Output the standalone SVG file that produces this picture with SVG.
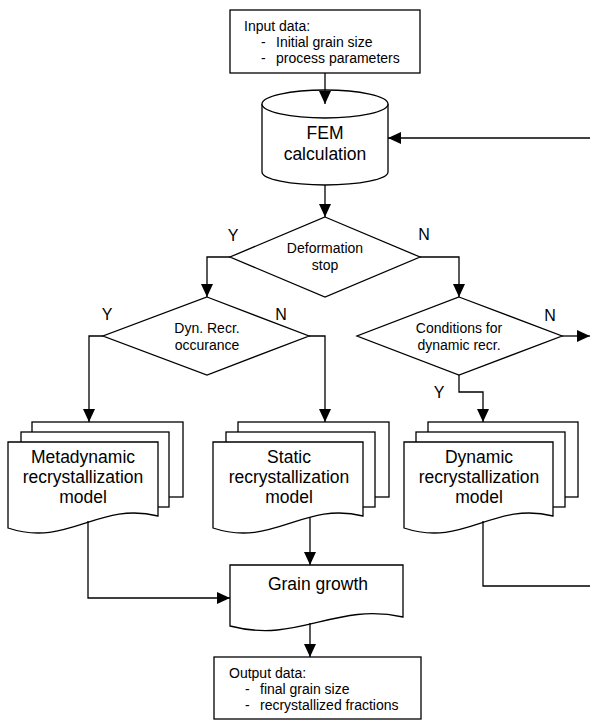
<svg xmlns="http://www.w3.org/2000/svg" width="590" height="722" viewBox="0 0 590 722">
<style>
.s{fill:#fff;stroke:#000;stroke-width:1.3}
.c{fill:none;stroke:#000;stroke-width:1.3}
text{font-family:"Liberation Sans",Arial,sans-serif;fill:#000}
.sm{font-size:14px}
.lg{font-size:17.5px;text-anchor:middle}
.md{font-size:14px;text-anchor:middle}
.yn{font-size:16px;text-anchor:middle}
</style>
<defs>
<marker id="a" markerUnits="userSpaceOnUse" markerWidth="14" markerHeight="12" refX="13" refY="6" orient="auto">
<path d="M0,0 L13,6 L0,12 z" fill="#000"/>
</marker>
</defs>
<rect width="590" height="722" fill="#fff"/>

<g id="input">
<rect class="s" x="230" y="10" width="190" height="63"/>
<text class="sm" x="244" y="31">Input data:</text>
<text class="sm" x="261" y="47">-</text><text class="sm" x="276" y="47">Initial grain size</text>
<text class="sm" x="261" y="63">-</text><text class="sm" x="276" y="63">process parameters</text>
</g>

<g id="fem">
<path class="s" d="M262,104 L262,172 A63,13 0 0 0 388,172 L388,104"/>
<ellipse class="s" cx="325" cy="104" rx="63" ry="14"/>
<text class="lg" x="325" y="139">FEM</text>
<text class="lg" x="325" y="160">calculation</text>
</g>

<g id="deform">
<polygon class="s" points="325,217 420,257 325,297 230,257"/>
<text class="md" x="325" y="253">Deformation</text>
<text class="md" x="325" y="270">stop</text>
</g>

<g id="dynrecr">
<polygon class="s" points="207,297 309,336 207,375 103,336"/>
<text class="md" x="207" y="333">Dyn. Recr.</text>
<text class="md" x="207" y="350">occurance</text>
</g>

<g id="cond">
<polygon class="s" points="459,297 562,336 459,375 357,336"/>
<text class="md" x="459" y="333">Conditions for</text>
<text class="md" x="459" y="350">dynamic recr.</text>
</g>

<g id="meta">
<rect class="s" x="32" y="422" width="151" height="75"/>
<rect class="s" x="21" y="432" width="148" height="75"/>
<path class="s" d="M8,442 L158,442 L158,516 C98,501 68,548 8,528 Z"/>
<text class="lg" x="83" y="463">Metadynamic</text>
<text class="lg" x="83" y="483">recrystallization</text>
<text class="lg" x="83" y="503">model</text>
</g>

<g id="static">
<rect class="s" x="238" y="422" width="151" height="75"/>
<rect class="s" x="226" y="432" width="149" height="75"/>
<path class="s" d="M213,442 L363,442 L363,516 C303,501 273,548 213,528 Z"/>
<text class="lg" x="289" y="463">Static</text>
<text class="lg" x="289" y="483">recrystallization</text>
<text class="lg" x="289" y="503">model</text>
</g>

<g id="dynamic">
<rect class="s" x="428" y="422" width="150" height="75"/>
<rect class="s" x="416" y="432" width="149" height="75"/>
<path class="s" d="M404,442 L553,442 L553,516 C493,501 464,548 404,528 Z"/>
<text class="lg" x="479" y="463">Dynamic</text>
<text class="lg" x="479" y="483">recrystallization</text>
<text class="lg" x="479" y="503">model</text>
</g>

<g id="grain">
<path class="s" d="M230,565 L403,565 L403,617 C334,602 299,644 230,626 Z"/>
<text class="lg" x="318" y="590">Grain growth</text>
</g>

<g id="output">
<rect class="s" x="214" y="657" width="207" height="62"/>
<text class="sm" x="229" y="678">Output data:</text>
<text class="sm" x="245" y="694">-</text><text class="sm" x="260" y="694">final grain size</text>
<text class="sm" x="245" y="710">-</text><text class="sm" x="260" y="710">recrystallized fractions</text>
</g>

<g id="connectors">
<path class="c" d="M325,73 L325,104" marker-end="url(#a)"/>
<path class="c" d="M590,138 L388,138" marker-end="url(#a)"/>
<path class="c" d="M325,185 L325,217" marker-end="url(#a)"/>
<path class="c" d="M230,257 L207,257 L207,297" marker-end="url(#a)"/>
<path class="c" d="M420,257 L459,257 L459,297" marker-end="url(#a)"/>
<path class="c" d="M103,336 L89,336 L89,422" marker-end="url(#a)"/>
<path class="c" d="M309,336 L325,336 L325,422" marker-end="url(#a)"/>
<path class="c" d="M562,336 L590,336" marker-end="url(#a)"/>
<path class="c" d="M459,375 L459,392 L483,392 L483,422" marker-end="url(#a)"/>
<path class="c" d="M88,521 L88,598 L230,598" marker-end="url(#a)"/>
<path class="c" d="M310,517 L310,565" marker-end="url(#a)"/>
<path class="c" d="M483,521 L483,586 L590,586"/>
<path class="c" d="M310,623 L310,657" marker-end="url(#a)"/>
</g>

<g id="labels">
<text class="yn" x="233" y="241">Y</text>
<text class="yn" x="424" y="240">N</text>
<text class="yn" x="107" y="320">Y</text>
<text class="yn" x="281" y="320">N</text>
<text class="yn" x="550" y="321">N</text>
<text class="yn" x="439" y="398">Y</text>
</g>
</svg>
